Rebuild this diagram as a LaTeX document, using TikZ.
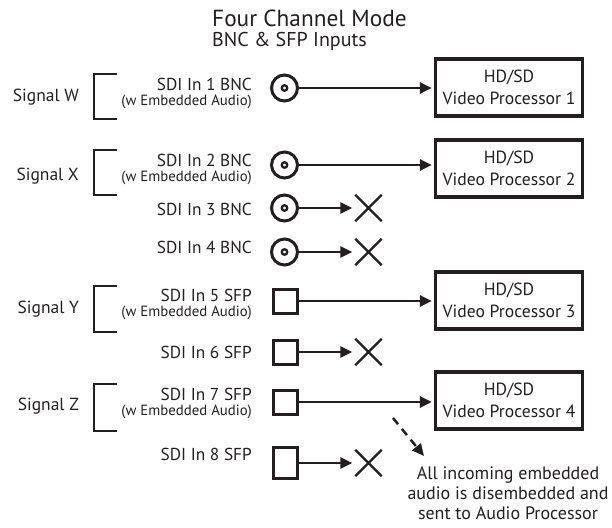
\documentclass[tikz,border=0pt]{standalone}
\usepackage{fontspec}
\setmainfont{PT Sans}
\usetikzlibrary{arrows.meta,shapes.misc}
\definecolor{ink}{HTML}{231F20}
\begin{document}
\begin{tikzpicture}[x=1pt,y=-1pt,
  txt/.style={inner sep=0pt, text=ink},
  lbl/.style={txt, anchor=base east, font=\fontsize{17.3}{20}\selectfont},
  sublbl/.style={txt, anchor=base east, font=\fontsize{14.8}{17}\selectfont},
  sig/.style={txt, anchor=base east, font=\fontsize{17.5}{20}\selectfont},
  bnc/.style={circle, draw=ink, line width=3pt, minimum size=26pt, inner sep=0pt},
  pin/.style={circle, draw=ink, line width=2.3pt, minimum size=5.5pt, inner sep=0pt},
  sfp/.style={rectangle, draw=ink, line width=3pt, minimum width=24pt, minimum height=24pt, inner sep=0pt},
  proc/.style={rectangle, draw=ink, line width=3.3pt, minimum width=147pt, minimum height=57pt, align=center, text=ink, font=\fontsize{17.6}{22}\selectfont, inner sep=0pt},
  xmark/.style={cross out, draw=ink, line width=2.4pt, minimum size=24pt, inner sep=0pt},
  link/.style={draw=ink, line width=2.9pt, -{Triangle[length=12pt,width=11pt]}},
  brk/.style={draw=ink, line width=2.5pt},
]
\useasboundingbox (0,0) rectangle (612,527);
\fill[white] (0,0) rectangle (612,527);

% title
\node[txt, anchor=base west, font=\fontsize{23.3}{26}\selectfont] (title) at (212,27) {Four Channel Mode};
\node[txt, anchor=base west, font=\fontsize{20}{24}\selectfont] (subtitle) at (212,47) {BNC \& SFP Inputs};

% signal labels and brackets
\node[sig] (sw) at (79,101) {Signal W};
\node[sig] (sx) at (79,180) {Signal X};
\node[sig] (sy) at (79,313) {Signal Y};
\node[sig] (sz) at (79,410) {Signal Z};
\draw[brk] (117,74) -- (94,74) -- (94,119) -- (117,119);
\draw[brk] (117,150) -- (94,150) -- (94,195) -- (117,195);
\draw[brk] (117,286) -- (94,286) -- (94,332) -- (117,332);
\draw[brk] (117,384) -- (94,384) -- (94,431) -- (117,431);

% input labels
\node[lbl] (l1) at (252,90.5) {SDI In 1 BNC};
\node[sublbl] (a1) at (252,105.5) {(w Embedded Audio)};
\node[lbl] (l2) at (252,166.5) {SDI In 2 BNC};
\node[sublbl] (a2) at (252,181.5) {(w Embedded Audio)};
\node[lbl] (l3) at (252,215) {SDI In 3 BNC};
\node[lbl] (l4) at (252,253) {SDI In 4 BNC};
\node[lbl] (l5) at (252,301.5) {SDI In 5 SFP};
\node[sublbl] (a5) at (252,316) {(w Embedded Audio)};
\node[lbl] (l6) at (252,358) {SDI In 6 SFP};
\node[lbl] (l7) at (252,400) {SDI In 7 SFP};
\node[sublbl] (a7) at (252,415) {(w Embedded Audio)};
\node[lbl] (l8) at (252,460.5) {SDI In 8 SFP};

% connectors
\node[bnc] (c1) at (284.5,88) {};
\node[pin] at (c1) {};
\node[bnc] (c2) at (284.5,165) {};
\node[pin] at (c2) {};
\node[bnc] (c3) at (284.5,208) {};
\node[pin] at (c3) {};
\node[bnc] (c4) at (284.5,252) {};
\node[pin] at (c4) {};
\node[sfp] (c5) at (285,301) {};
\node[sfp] (c6) at (285,352) {};
\node[sfp] (c7) at (285,402) {};
\node[sfp, minimum height=31pt] (c8) at (285,463) {};

% processors
\node[proc] (p1) at (509,87.5) {HD/SD\\Video Processor 1};
\node[proc] (p2) at (509,168.5) {HD/SD\\Video Processor 2};
\node[proc] (p3) at (509,300.5) {HD/SD\\Video Processor 3};
\node[proc] (p4) at (509,400.5) {HD/SD\\Video Processor 4};

% unused outputs
\node[xmark] (x3) at (368.5,208) {};
\node[xmark] (x4) at (368.5,252) {};
\node[xmark] (x6) at (368.5,352) {};
\node[xmark] (x8) at (368.5,463) {};

% links
\draw[link, shorten >=2pt] (c1.east) -- (c1.east -| p1.west);
\draw[link, shorten >=2pt] (c2.east) -- (c2.east -| p2.west);
\draw[link, shorten >=2pt] (c5.east) -- (c5.east -| p3.west);
\draw[link, shorten >=2pt] (c7.east) -- (c7.east -| p4.west);
\draw[link, shorten >=3pt] (c3.east) -- (x3.west);
\draw[link, shorten >=3pt] (c4.east) -- (x4.west);
\draw[link, shorten >=3pt] (c6.east) -- (x6.west);
\draw[link, shorten >=3pt] (c8.east) -- (x8.west);

% note
\coordinate (d0) at (393,418);
\coordinate (d1) at (424,456);
\draw[link, line width=2.5pt, dash pattern=on 8pt off 6pt] (d0) -- (d1);
\node[txt, align=center, anchor=north, font=\fontsize{18}{19.8}\selectfont] (note) at (508,466.5) {All incoming embedded\\audio is disembedded and\\sent to Audio Processor};
\end{tikzpicture}
\end{document}
